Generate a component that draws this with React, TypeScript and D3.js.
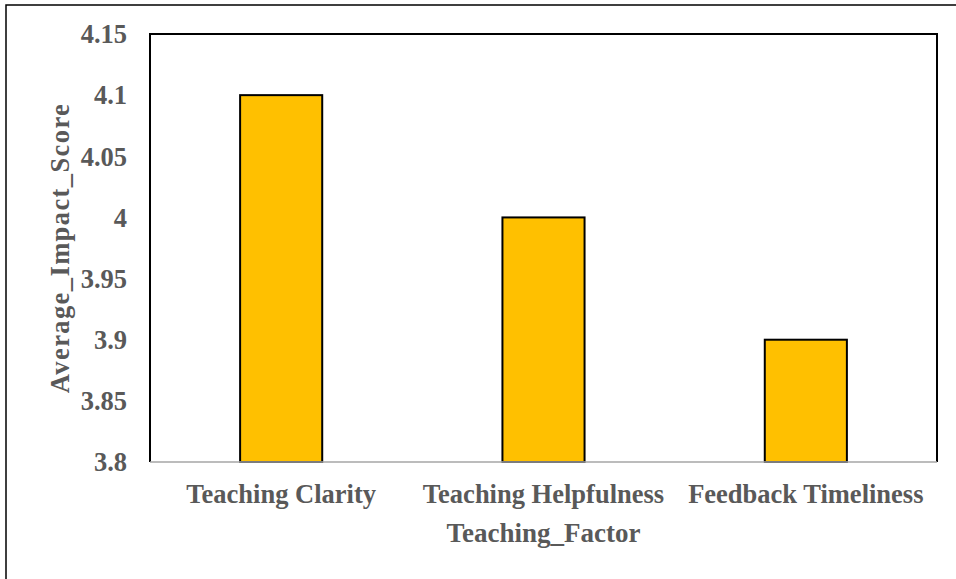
import { useEffect, useRef } from "react";
import * as d3 from "d3";

// Bar chart: average impact score per teaching factor.

const categories = ["Teaching Clarity", "Teaching Helpfulness", "Feedback Timeliness"];
const scores = [4.1, 4.0, 3.9];
const yTicks = [3.8, 3.85, 3.9, 3.95, 4, 4.05, 4.1, 4.15];

const W = 956;
const H = 579;
const M = { left: 150, top: 34, right: 937, bottom: 462 };
const FONT = "'Liberation Serif', 'Times New Roman', serif";
const GREY = "#595959";
const FS = 26.5;

export default function App() {
  const ref = useRef<SVGSVGElement>(null);

  useEffect(() => {
    const svg = d3.select(ref.current);
    svg.selectAll("*").remove();

    const x = d3
      .scaleBand<string>()
      .domain(categories)
      .range([M.left, M.right])
      .paddingInner(0.687)
      .paddingOuter(0.3435);
    const y = d3.scaleLinear().domain([3.8, 4.15]).range([M.bottom, M.top]);

    // outer chart frame (runs off the right and bottom)
    svg
      .append("path")
      .attr("d", `M6,${H + 5} L6,5 L${W + 5},5`)
      .attr("fill", "none")
      .attr("stroke", "#000")
      .attr("stroke-width", 1.5);

    // bars
    svg
      .append("g")
      .selectAll("rect")
      .data(categories)
      .join("rect")
      .attr("x", (d) => x(d)!)
      .attr("y", (_, i) => y(scores[i]))
      .attr("width", x.bandwidth())
      .attr("height", (_, i) => y(3.8) - y(scores[i]))
      .attr("fill", "#FFC000")
      .attr("stroke", "#000")
      .attr("stroke-width", 2);

    // plot area border: left, top, right
    svg
      .append("path")
      .attr("d", `M${M.left},${M.bottom} L${M.left},${M.top} L${M.right},${M.top} L${M.right},${M.bottom}`)
      .attr("fill", "none")
      .attr("stroke", "#000")
      .attr("stroke-width", 2);

    // x axis baseline
    svg
      .append("line")
      .attr("x1", M.left)
      .attr("x2", M.right)
      .attr("y1", y(3.8))
      .attr("y2", y(3.8))
      .attr("stroke", "#A6A6A6")
      .attr("stroke-width", 1.5);

    // y tick labels
    svg
      .append("g")
      .selectAll("text")
      .data(yTicks)
      .join("text")
      .attr("x", 127)
      .attr("y", (d) => y(d))
      .attr("dy", "0.35em")
      .attr("text-anchor", "end")
      .attr("font-family", FONT)
      .attr("font-weight", "bold")
      .attr("font-size", FS)
      .attr("fill", GREY)
      .text((d) => String(d));

    // category labels
    svg
      .append("g")
      .selectAll("text")
      .data(categories)
      .join("text")
      .attr("x", (d) => x(d)! + x.bandwidth() / 2)
      .attr("y", 503)
      .attr("text-anchor", "middle")
      .attr("font-family", FONT)
      .attr("font-weight", "bold")
      .attr("font-size", FS)
      .attr("fill", GREY)
      .text((d) => d);

    // axis titles
    svg
      .append("text")
      .attr("x", (M.left + M.right) / 2)
      .attr("y", 542)
      .attr("text-anchor", "middle")
      .attr("font-family", FONT)
      .attr("font-weight", "bold")
      .attr("font-size", 27)
      .attr("fill", GREY)
      .text("Teaching_Factor");

    svg
      .append("text")
      .attr("transform", `translate(69,${(M.top + M.bottom) / 2}) rotate(-90)`)
      .attr("text-anchor", "middle")
      .attr("font-family", FONT)
      .attr("font-weight", "bold")
      .attr("font-size", FS)
      .attr("letter-spacing", 1.4)
      .attr("fill", GREY)
      .text("Average_Impact_Score");
  }, []);

  return (
    <svg
      ref={ref}
      width={W}
      height={H}
      style={{ position: "absolute", left: 0, top: 0, background: "#fff" }}
    />
  );
}
